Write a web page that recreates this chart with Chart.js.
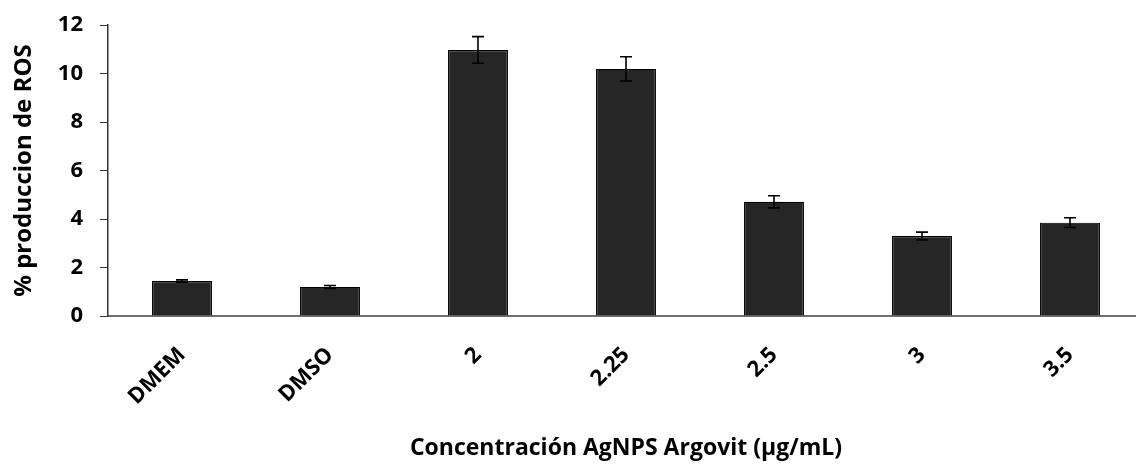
<!DOCTYPE html>
<html>
<head>
<meta charset="utf-8">
<script src="https://cdn.jsdelivr.net/npm/chart.js@4"></script>
<style>
  html, body { margin: 0; padding: 0; background: #fff; overflow: hidden; }
  #wrap { width: 1150px; height: 466px; }
</style>
</head>
<body>
<div id="wrap"><canvas id="rosChart"></canvas></div>
<script>
// categories and values
const labels = ["DMEM", "DMSO", "2", "2.25", "2.5", "3", "3.5"];
const rosValues = [1.44, 1.2, 10.97, 10.19, 4.71, 3.3, 3.85];
const rosErrors = [0.05, 0.06, 0.55, 0.5, 0.25, 0.16, 0.2];
const yTicks = [0, 2, 4, 6, 8, 10, 12];

// draws the error whiskers on top of each bar
const errorBars = {
    id: "errorBars",
    afterDatasetsDraw(chart) {
        const ctx = chart.ctx;
        const y = chart.scales.y;
        const meta = chart.getDatasetMeta(0);
        ctx.save();
        ctx.strokeStyle = "#000";
        ctx.lineWidth = 1.6;
        meta.data.forEach((bar, i) => {
            const hi = y.getPixelForValue(rosValues[i] + rosErrors[i]);
            const lo = y.getPixelForValue(rosValues[i] - rosErrors[i]);
            const cap = 6;
            ctx.beginPath();
            ctx.moveTo(bar.x, hi);
            ctx.lineTo(bar.x, lo);
            ctx.moveTo(bar.x - cap, hi);
            ctx.lineTo(bar.x + cap, hi);
            ctx.moveTo(bar.x - cap, lo);
            ctx.lineTo(bar.x + cap, lo);
            ctx.stroke();
        });
        ctx.restore();
    }
};

new Chart("rosChart", {
    type: "bar",
    data: {
        labels: labels,
        datasets: [{
            data: rosValues,
            backgroundColor: "#262626",
            borderColor: "#000",
            borderWidth: 1.2,
            barPercentage: 0.81,
            categoryPercentage: 0.5
        }]
    },
    options: {
        responsive: true,
        maintainAspectRatio: false,
        animation: false,
        layout: { padding: { top: 25, right: 6, left: 10, bottom: 0 } },
        plugins: {
            legend: { display: false },
            tooltip: { enabled: false }
        },
        scales: {
            x: {
                afterFit: (scale) => { scale.height = 150; },
                grid: { display: false, drawTicks: false },
                border: { color: "#6e6e6e", width: 2 },
                ticks: {
                    color: "#000",
                    minRotation: 45,
                    maxRotation: 45,
                    padding: 26,
                    font: { family: "'Open Sans'", weight: "bold", size: 22 }
                },
                title: {
                    display: true,
                    text: "Concentración AgNPS Argovit (µg/mL)",
                    color: "#000",
                    font: { family: "'Open Sans'", weight: "bold", size: 23 },
                    padding: { top: 0, bottom: 4 }
                }
            },
            y: {
                min: 0,
                max: 12,
                afterFit: (scale) => {
                    scale.width = 98;
                    scale.paddingTop = 0;
                    scale.paddingBottom = 0;
                },
                afterBuildTicks: (scale) => { scale.ticks = yTicks.map(v => ({ value: v })); },
                grid: { display: true, drawOnChartArea: false, tickLength: 8, color: "#333" },
                border: { color: "#333", width: 1.5 },
                ticks: {
                    color: "#000",
                    padding: 17,
                    font: { family: "'Open Sans'", weight: "bold", size: 22 }
                },
                title: {
                    display: true,
                    text: "% produccion de ROS",
                    color: "#000",
                    font: { family: "'Open Sans'", weight: "bold", size: 24 },
                    padding: { top: 0, bottom: 6 }
                }
            }
        }
    },
    plugins: [errorBars]
});
</script>
</body>
</html>
